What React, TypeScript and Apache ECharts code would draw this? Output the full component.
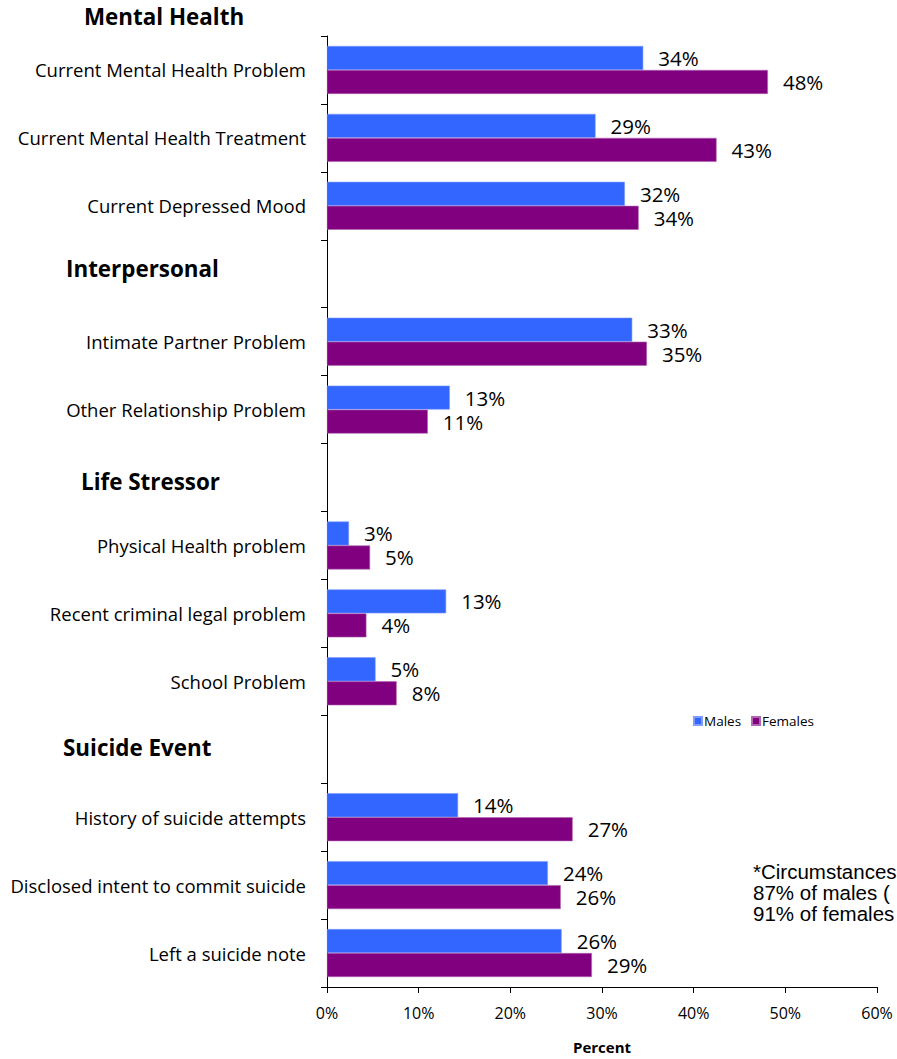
import React, { useEffect, useRef } from "react";
import * as echarts from "echarts";

const categories = [
  "Current Mental Health Problem",
  "Current Mental Health Treatment",
  "Current Depressed Mood",
  "",
  "Intimate Partner Problem",
  "Other Relationship Problem",
  "",
  "Physical Health problem",
  "Recent criminal legal problem",
  "School Problem",
  "",
  "History of suicide attempts",
  "Disclosed intent to commit suicide",
  "Left a suicide note",
];

const males = [34.5, 29.3, 32.5, null, 33.3, 13.4, null, 2.4, 13.0, 5.3, null, 14.3, 24.1, 25.6];
const females = [48.1, 42.5, 34.0, null, 34.9, 11.0, null, 4.7, 4.3, 7.6, null, 26.8, 25.5, 28.9];
const maleLabels = ["34%", "29%", "32%", "", "33%", "13%", "", "3%", "13%", "5%", "", "14%", "24%", "26%"];
const femaleLabels = ["48%", "43%", "34%", "", "35%", "11%", "", "5%", "4%", "8%", "", "27%", "26%", "29%"];

const groupHeaders = ["Mental Health", "Interpersonal", "Life Stressor", "Suicide Event"];
const noteLines = ["*Circumstances", "87% of males (", "91% of females"];

const FONT = "'Open Sans', Lato, sans-serif";

export default function App() {
  const ref = useRef<HTMLDivElement>(null);
  useEffect(() => {
    document.body.style.margin = "0";
    if (!ref.current) return;
    const chart = echarts.init(ref.current, null, { renderer: "svg" });
    const headerPos = [
      { x: 84, y: 17 },
      { x: 66, y: 269 },
      { x: 81, y: 482 },
      { x: 63, y: 748 },
    ];
    chart.setOption({
      animation: false,
      backgroundColor: "#ffffff",
      textStyle: { fontFamily: FONT },
      grid: { left: 327, right: 20, top: 36, bottom: 64, containLabel: false },
      legend: {
        data: ["Males", "Females"],
        left: 688,
        top: 709,
        itemWidth: 8,
        itemHeight: 8,
        itemGap: 10,
        icon: "rect",
        textStyle: { fontSize: 13.5, color: "#000", fontFamily: FONT, padding: [0, 0, 0, -3] },
      },
      xAxis: {
        type: "value",
        min: 0,
        max: 60,
        interval: 10,
        name: "Percent",
        nameLocation: "middle",
        nameGap: 52,
        nameTextStyle: { fontSize: 15, fontWeight: "bold", color: "#000", fontFamily: FONT },
        axisLine: { show: true, lineStyle: { color: "#000", width: 1 } },
        axisTick: { show: true, length: 6, lineStyle: { color: "#000" } },
        axisLabel: { formatter: "{value}%", fontSize: 16, color: "#000", margin: 18, fontFamily: FONT },
        splitLine: { show: false },
      },
      yAxis: {
        type: "category",
        inverse: true,
        data: categories,
        axisLine: { show: true, lineStyle: { color: "#000", width: 1 } },
        axisTick: { show: true, length: 6, interval: 0, lineStyle: { color: "#000" } },
        axisLabel: { fontSize: 18.5, color: "#000", margin: 21, interval: 0, fontFamily: FONT },
      },
      series: [
        {
          name: "Males",
          type: "bar",
          data: males,
          barWidth: 24,
          barGap: "0%",
          itemStyle: { color: "#3366FF", borderColor: "#7f9cff", borderWidth: 0.6 },
          label: {
            show: true,
            position: "right",
            distance: 15,
            fontSize: 20.5,
            color: "#000",
            fontFamily: FONT,
            formatter: (p: any) => maleLabels[p.dataIndex],
          },
        },
        {
          name: "Females",
          type: "bar",
          data: females,
          barWidth: 24,
          barGap: "0%",
          itemStyle: { color: "#800080", borderColor: "#b066b0", borderWidth: 0.6 },
          label: {
            show: true,
            position: "right",
            distance: 15,
            fontSize: 20.5,
            color: "#000",
            fontFamily: FONT,
            formatter: (p: any) => femaleLabels[p.dataIndex],
          },
        },
      ],
      graphic: [
        ...groupHeaders.map((t, i) => ({
          type: "text",
          left: headerPos[i].x,
          top: headerPos[i].y - 12,
          style: { text: t, fontSize: 22.4, fontWeight: "bold", fill: "#000", fontFamily: FONT },
        })),
        ...noteLines.map((t, i) => ({
          type: "text",
          left: 753,
          top: 861 + i * 21,
          style: { text: t, fontSize: 20.5, fill: "#000", fontFamily: "'Liberation Sans', Arial, sans-serif" },
        })),
      ],
    });
    return () => chart.dispose();
  }, []);
  return <div ref={ref} style={{ width: 897, height: 1059 }} />;
}
